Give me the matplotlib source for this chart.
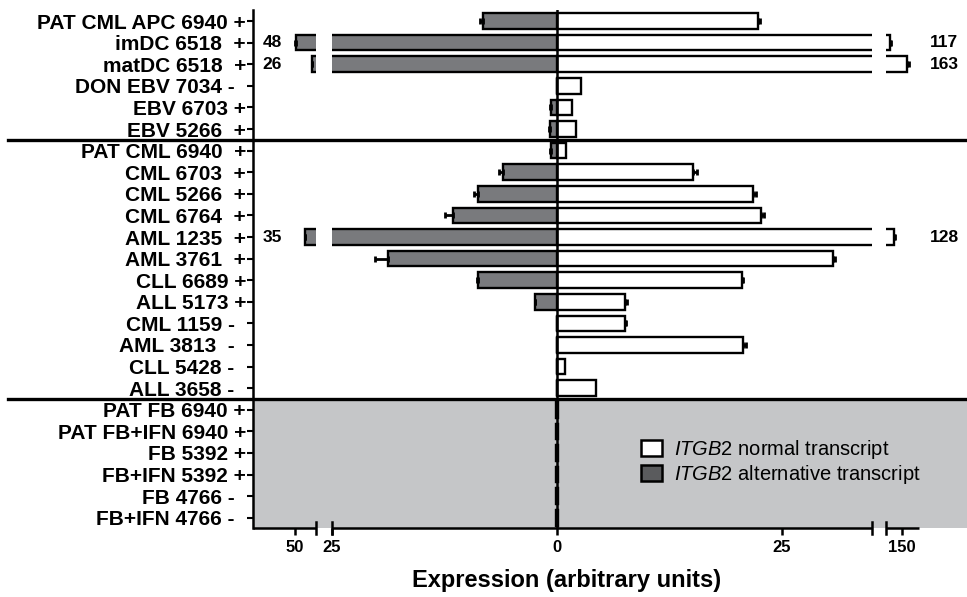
import numpy as np
import matplotlib
matplotlib.use("Agg")
import matplotlib.pyplot as plt
from matplotlib.patches import Rectangle, Patch
from matplotlib.transforms import blended_transform_factory

plt.rcParams['font.family'] = ['Liberation Sans', 'DejaVu Sans']
plt.rcParams['mathtext.fontset'] = 'custom'
plt.rcParams['mathtext.it'] = 'Liberation Sans:italic'
plt.rcParams['mathtext.rm'] = 'Liberation Sans'

# ---------------- data ----------------
samples = [
    "PAT CML APC 6940 +", "imDC 6518  +", "matDC 6518  +", "DON EBV 7034 -  ",
    "EBV 6703 +", "EBV 5266  +",
    "PAT CML 6940  +", "CML 6703  +", "CML 5266  +", "CML 6764  +",
    "AML 1235  +", "AML 3761  +", "CLL 6689 +", "ALL 5173 +",
    "CML 1159 -  ", "AML 3813  -  ", "CLL 5428 -  ", "ALL 3658 -  ",
    "PAT FB 6940 +", "PAT FB+IFN 6940 +", "FB 5392 +", "FB+IFN 5392 +",
    "FB 4766 -  ", "FB+IFN 4766 -  ",
]
normal = [22.3, 117, 163, 2.7, 1.7, 2.1,
          1.0, 15.1, 21.8, 22.7, 128, 30.7, 20.5, 7.6,
          7.5, 20.7, 0.9, 4.3,
          0.15, 0.15, 0.1, 0.1, 0.1, 0.1]
normal_err = [0.3, 2.0, 5.0, 0.0, 0.0, 0.0,
              0.0, 0.4, 0.3, 0.3, 2.0, 0.2, 0.2, 0.2,
              0.2, 0.3, 0.0, 0.0,
              0, 0, 0, 0, 0, 0]
alternative = [8.2, 48, 26, 0.0, 0.7, 0.8,
               0.7, 6.0, 8.8, 11.6, 35, 18.8, 8.8, 2.4,
               0.0, 0.0, 0.0, 0.0,
               0.15, 0.15, 0.1, 0.1, 0.1, 0.1]
alternative_err = [0.4, 1.5, 0.5, 0.0, 0.1, 0.1,
                   0.1, 0.4, 0.4, 0.8, 1.0, 1.4, 0.1, 0.1,
                   0, 0, 0, 0,
                   0, 0, 0, 0, 0, 0]
xtick_values = [-50, -25, 0, 25, 150]
xtick_labels = ["50", "25", "0", "25", "150"]
group_breaks = [5.5, 17.5]
legend_labels = [r"$\mathit{ITGB2}$ normal transcript",
                 r"$\mathit{ITGB2}$ alternative transcript"]
xlabel = "Expression (arbitrary units)"

# broken axis definition (data value -> screen units, piecewise linear)
LEFT_BREAK = (-25.01, -25.0)
RIGHT_BREAK = (35.0, 106.0)
V = [-1000, -50, -26, LEFT_BREAK[0], LEFT_BREAK[1], 0,
     RIGHT_BREAK[0], RIGHT_BREAK[1], 1000]
U = [-262.5 - 950 * 0.73, -262.5, -245, -241, -225, 0,
     315, 329, 329 + 894 * 0.37]


def forward(x):
    return np.interp(x, V, U)


def inverse(u):
    return np.interp(u, U, V)


W, H = 967, 597
fig = plt.figure(figsize=(W / 100, H / 100), dpi=100)
ax_left, ax_right, ax_top, ax_bot = 253, 919, 10, 528
ax = fig.add_axes([ax_left / W, 1 - ax_bot / H, (ax_right - ax_left) / W, (ax_bot - ax_top) / H])
ax.set_xscale('function', functions=(forward, inverse))
ax.patch.set_visible(False)

n = len(samples)
y = np.arange(n)
row_px = 21.6
ax.set_ylim((ax_bot - 21) / row_px, (ax_top - 21) / row_px)
ax.set_xlim(inverse(ax_left - 557), inverse(ax_right - 557))

bar_h = 0.72
alt_color = '#797a7d'
ax.barh(y, normal, height=bar_h, color='white', edgecolor='black', linewidth=1.7, zorder=2)
ax.barh(y, -np.array(alternative), height=bar_h, color=alt_color, edgecolor='black',
        linewidth=1.7, zorder=2)

# error bars (outward only)
ne = np.array(normal_err)
ae = np.array(alternative_err)
m = ne > 0
ax.errorbar(np.array(normal)[m], y[m], xerr=[np.zeros(m.sum()), ne[m]], fmt='none',
            ecolor='black', elinewidth=2, capsize=2.5, capthick=2, zorder=4)
m = ae > 0
ax.errorbar(-np.array(alternative)[m], y[m], xerr=[ae[m], np.zeros(m.sum())], fmt='none',
            ecolor='black', elinewidth=2, capsize=2.5, capthick=2, zorder=4)

# white gaps cutting the bars at the axis breaks (white area only)
top_lim = ax.get_ylim()[1]
for lo, hi in (LEFT_BREAK, RIGHT_BREAK):
    ax.add_patch(Rectangle((lo, top_lim), hi - lo, group_breaks[1] - top_lim,
                           facecolor='white', edgecolor='none', zorder=3))

# gray background for fibroblast rows
tr_axdata = blended_transform_factory(ax.transAxes, ax.transData)
ax.add_patch(Rectangle((0, group_breaks[1]), (W - ax_left) / (ax_right - ax_left),
                       ax.get_ylim()[0] - group_breaks[1], transform=tr_axdata,
                       facecolor='#c5c6c8', edgecolor='none', zorder=0, clip_on=False))

# group separator lines across the figure
tr_figdata = blended_transform_factory(fig.transFigure, ax.transData)
for gb in group_breaks:
    ax.plot([8 / W, 1.0], [gb, gb], transform=tr_figdata, color='black', lw=2.4,
            clip_on=False, zorder=6)

# zero line
ax.axvline(0, color='black', lw=1.8, zorder=5)

# value labels for broken bars
for i in range(n):
    if alternative[i] > abs(LEFT_BREAK[1]):
        ax.text(0.014, y[i], f"{alternative[i]:g}", transform=tr_axdata, ha='left',
                va='center', fontsize=12.5, fontweight='bold')
    if normal[i] > RIGHT_BREAK[0]:
        ax.text(1.017, y[i], f"{normal[i]:g}", transform=tr_axdata, ha='left',
                va='center', fontsize=12.5, fontweight='bold', clip_on=False)

# spines
for s in ('top', 'right', 'bottom'):
    ax.spines[s].set_visible(False)
ax.spines['left'].set_linewidth(1.8)

tr_dataax = blended_transform_factory(ax.transData, ax.transAxes)
xl = ax.get_xlim()
for a, b in ((xl[0], LEFT_BREAK[0]), (LEFT_BREAK[1], RIGHT_BREAK[0]), (RIGHT_BREAK[1], xl[1])):
    ax.plot([a, b], [0, 0], transform=tr_dataax, color='black', lw=1.8, clip_on=False,
            solid_capstyle='butt', zorder=6)
for bx in (*LEFT_BREAK, *RIGHT_BREAK):
    ax.plot([bx, bx], [-0.012, 0.012], transform=tr_dataax, color='black', lw=1.8,
            clip_on=False, zorder=6)

ax.set_xticks(xtick_values)
ax.set_xticklabels(xtick_labels, fontsize=12, fontweight='bold')
ax.xaxis.set_minor_locator(matplotlib.ticker.NullLocator())
ax.tick_params(axis='x', direction='out', length=5, width=1.8, pad=4)

ax.set_yticks(y)
ax.set_yticklabels(samples, fontsize=15, fontweight='bold')
ax.tick_params(axis='y', direction='out', length=4, width=1.5, pad=1)

# legend
handles = [Patch(facecolor='white', edgecolor='black', linewidth=1.8),
           Patch(facecolor='#5a5b5d', edgecolor='black', linewidth=1.8)]
ax.legend(handles, legend_labels, loc='upper left',
          bbox_to_anchor=(641 / W, 1 - 438 / H), bbox_transform=fig.transFigure,
          frameon=False, fontsize=14.5, handlelength=1.05, handleheight=0.85,
          handletextpad=0.6, labelspacing=0.1, borderaxespad=0, borderpad=0)

fig.text(567 / W, 1 - 580 / H, xlabel, ha='center', va='center', fontsize=17,
         fontweight='bold')

fig.savefig("out.png", dpi=100)
